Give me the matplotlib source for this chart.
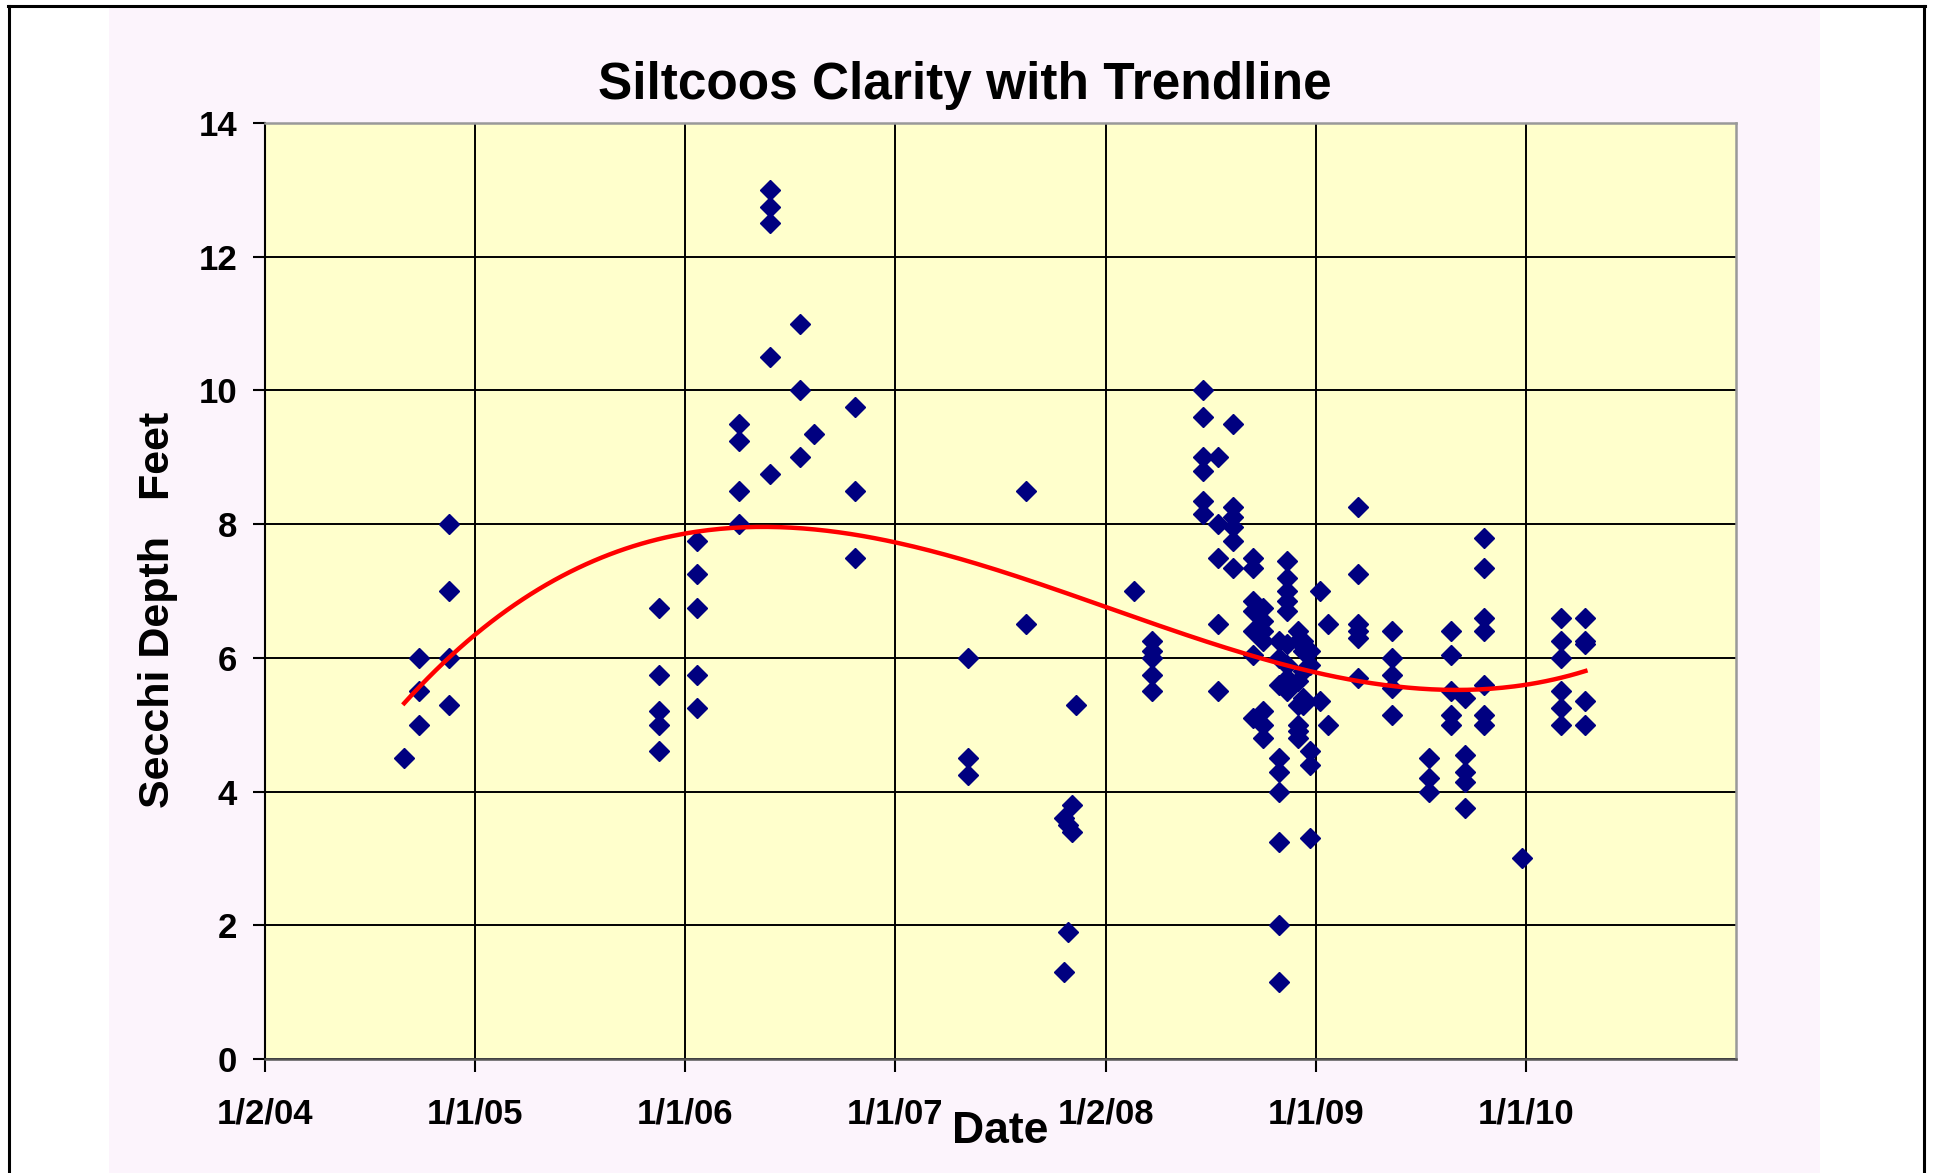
import datetime as dt

import matplotlib

matplotlib.use("Agg")
import matplotlib.dates as mdates
import matplotlib.pyplot as plt
import numpy as np
from matplotlib.lines import Line2D
from matplotlib.patches import Rectangle

plt.rcParams["font.family"] = ["Liberation Sans", "DejaVu Sans"]

# sampling dates and the Secchi readings (feet) taken on each date
sample_dates = [
    "2004-08-31", "2004-09-26", "2004-11-16",
    "2005-11-17", "2006-01-21",
    "2006-04-04", "2006-05-29", "2006-07-20", "2006-08-13", "2006-10-23",
    "2007-05-08", "2007-08-17", "2007-10-21", "2007-10-28", "2007-11-04", "2007-11-11",
    "2008-02-20", "2008-03-23", "2008-06-19", "2008-07-16", "2008-08-11",
    "2008-09-15", "2008-10-02", "2008-10-29", "2008-11-12", "2008-12-01",
    "2008-12-11", "2008-12-23",
    "2009-01-09", "2009-01-22", "2009-03-15", "2009-05-13", "2009-07-17",
    "2009-08-25", "2009-09-18", "2009-10-21", "2009-12-25",
    "2010-03-03", "2010-04-15",
]
secchi_ft = [
    [4.5], [6.0, 5.5, 5.0], [8.0, 7.0, 6.0, 5.3],
    [6.75, 5.75, 5.2, 5.0, 4.6], [7.75, 7.25, 6.75, 5.75, 5.25],
    [9.5, 9.25, 8.5, 8.0], [13.0, 12.75, 12.5, 10.5, 8.75], [11.0, 10.0, 9.0],
    [9.35], [9.75, 8.5, 7.5],
    [6.0, 4.5, 4.25], [8.5, 6.5], [3.6, 1.3], [3.5, 1.9], [3.8, 3.4], [5.3],
    [7.0], [6.25, 6.1, 6.0, 5.75, 5.5], [10.0, 9.6, 9.0, 8.8, 8.35, 8.15],
    [9.0, 8.0, 7.5, 6.5, 5.5], [9.5, 8.25, 8.1, 7.95, 7.75, 7.35],
    [7.5, 7.35, 6.85, 6.7, 6.4, 6.05, 5.1],
    [6.75, 6.55, 6.4, 6.25, 5.2, 5.0, 4.8],
    [6.25, 6.0, 5.6, 4.5, 4.3, 4.0, 3.25, 2.0, 1.15],
    [7.45, 7.2, 7.0, 6.85, 6.7, 6.2, 5.9, 5.7, 5.5],
    [6.4, 6.25, 5.65, 5.3, 5.0, 4.9, 4.8],
    [6.25, 6.1, 5.8, 5.4, 5.3],
    [6.1, 5.9, 4.6, 4.4, 3.3],
    [7.0, 5.35], [6.5, 5.0], [8.25, 7.25, 6.5, 6.4, 6.3, 5.7],
    [6.4, 6.0, 5.75, 5.55, 5.15], [4.5, 4.2, 4.0],
    [6.4, 6.05, 5.5, 5.15, 5.0], [5.4, 4.55, 4.3, 4.15, 3.75],
    [7.8, 7.35, 6.6, 6.4, 5.6, 5.15, 5.0], [3.0],
    [6.6, 6.25, 6.0, 5.5, 5.25, 5.0], [6.6, 6.25, 6.2, 5.35, 5.0],
]

axis_start = "2004-01-02"
year_step_days = 365.25
n_year_steps = 7
x_tick_labels = ["1/2/04", "1/1/05", "1/1/06", "1/1/07", "1/2/08", "1/1/09", "1/1/10"]
y_ticks = [0, 2, 4, 6, 8, 10, 12, 14]

W, H = 1935, 1173


def fx(px):
    return px / W


def fy(py):
    return 1 - py / H


x_vals = []
y_vals = []
for day, readings in zip(sample_dates, secchi_ft):
    for value in readings:
        x_vals.append(mdates.date2num(dt.date.fromisoformat(day)))
        y_vals.append(value)
x_vals = np.array(x_vals)
y_vals = np.array(y_vals)

x0 = mdates.date2num(dt.date.fromisoformat(axis_start))
x_end = x0 + n_year_steps * year_step_days

# third order polynomial trendline, like the spreadsheet one
coef = np.polyfit(x_vals - x0, y_vals, 3)
trend_x = np.linspace(x_vals.min(), x_vals.max(), 300)
trend_y = np.polyval(coef, trend_x - x0)

fig = plt.figure(figsize=(W / 100, H / 100), dpi=100, facecolor="white")
fig.patches.append(
    Rectangle((fx(109), 0), fx(1820) - fx(109), fy(8), transform=fig.transFigure,
              facecolor="#FCF4FC", edgecolor="none", zorder=-2)
)
for xs, ys in [((fx(8), fx(1925)), (fy(6), fy(6))),
               ((fx(9), fx(9)), (fy(6), 0)),
               ((fx(1924), fx(1924)), (fy(6), 0))]:
    fig.lines.append(Line2D(xs, ys, transform=fig.transFigure, color="black",
                            lw=2.2, zorder=-1))

ax = fig.add_axes([fx(265), fy(1059), fx(1736) - fx(265), fy(123) - fy(1059)])
ax.set_facecolor("#FFFFCC")

ax.plot(x_vals, y_vals, linestyle="none", marker="D", markersize=10,
        color="#000080", markeredgecolor="#000080", zorder=3)
ax.plot(trend_x, trend_y, color="#FF0000", lw=3.2, zorder=4)

ticks = [x0 + k * year_step_days for k in range(n_year_steps)]
ax.set_xlim(x0, x_end)
ax.set_ylim(0, 14)
ax.set_xticks(ticks)
ax.set_xticklabels(x_tick_labels)
ax.set_yticks(y_ticks)
ax.grid(True, color="black", lw=1.4, zorder=1)
ax.set_axisbelow(True)

ax.tick_params(axis="x", direction="out", length=9, width=1.5, pad=19,
               labelsize=25, color="black")
ax.tick_params(axis="y", direction="out", length=9, width=1.5, pad=11,
               labelsize=25, color="black")
for lab in ax.get_xticklabels() + ax.get_yticklabels():
    lab.set_fontweight("bold")

ax.spines["left"].set_color("black")
ax.spines["left"].set_linewidth(1.5)
ax.spines["bottom"].set_color("#555555")
ax.spines["bottom"].set_linewidth(1.8)
for side in ("top", "right"):
    ax.spines[side].set_color("#999999")
    ax.spines[side].set_linewidth(1.8)

fig.text(fx(965), fy(99), "Siltcoos Clarity with Trendline", ha="center",
         va="baseline", fontsize=37, fontweight="bold")
fig.text(fx(1000), fy(1143), "Date", ha="center", va="baseline",
         fontsize=32, fontweight="bold")
fig.text(fx(158), fy(610), "Secchi Depth   Feet", ha="center", va="center",
         rotation=90, fontsize=31, fontweight="bold")

fig.savefig("out.png", dpi=100, facecolor=fig.get_facecolor())
